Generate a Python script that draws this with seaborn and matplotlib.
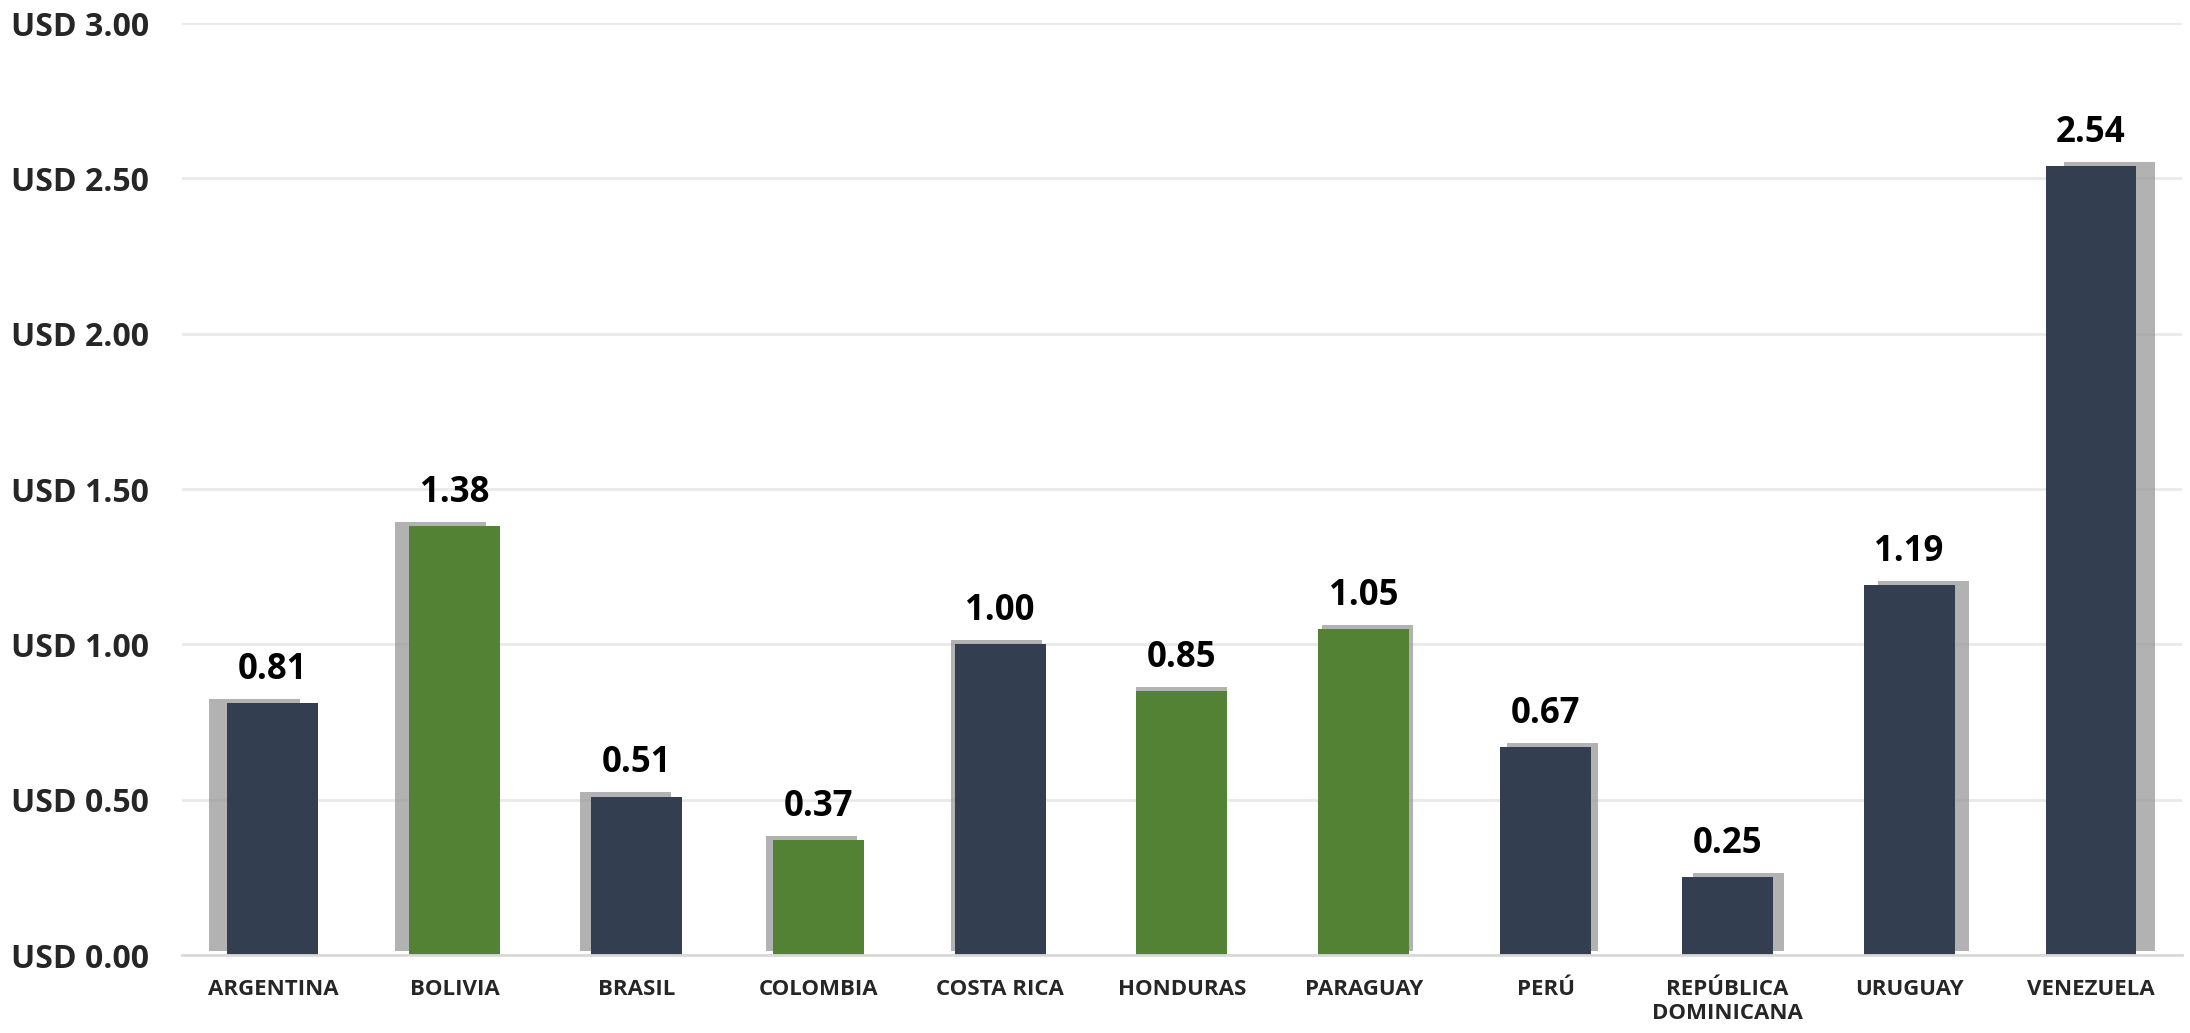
import seaborn as sns
import pandas as pd
import matplotlib.pyplot as plt
import matplotlib.patheffects as pe

# data
countries = ["ARGENTINA", "BOLIVIA", "BRASIL", "COLOMBIA", "COSTA RICA", "HONDURAS",
             "PARAGUAY", "PERÚ", "REPÚBLICA\nDOMINICANA", "URUGUAY", "VENEZUELA"]
values = [0.81, 1.38, 0.51, 0.37, 1.00, 0.85, 1.05, 0.67, 0.25, 1.19, 2.54]
groups = ["navy", "green", "navy", "green", "navy", "green",
          "green", "navy", "navy", "navy", "navy"]
y_ticks = [0.0, 0.5, 1.0, 1.5, 2.0, 2.5, 3.0]

df = pd.DataFrame({"country": countries, "value": values, "group": groups})

sns.set_style("white")
plt.rcParams["font.family"] = ["Open Sans", "DejaVu Sans"]

fig = plt.figure(figsize=(21.9, 10.33), dpi=100)
ax = fig.add_axes([0.0831, 0.0755, 0.9132, 0.9022])

sns.barplot(
    data=df,
    x="country",
    y="value",
    hue="group",
    palette={"navy": "#333F50", "green": "#548235"},
    saturation=1,
    dodge=False,
    width=0.5,
    legend=False,
    linewidth=0,
    ax=ax,
)

# perspective-like shadow, pointing away from the middle
n = len(countries)
for p in ax.patches:
    cx = p.get_x() + p.get_width() / 2
    dx = (cx - (n - 1) / 2) * 2.6
    p.set_path_effects([
        pe.SimplePatchShadow(offset=(dx, 3), shadow_rgbFace="0.6", alpha=0.75),
        pe.Normal(),
    ])

for c in ax.containers:
    ax.bar_label(c, fmt="%.2f", padding=11, fontsize=25, fontweight="bold", color="black")

ax.set_ylim(0, 3.0)
ax.set_xlim(-0.5, n - 0.5)
ax.set_yticks(y_ticks)
ax.set_yticklabels([f"USD {v:.2f}" for v in y_ticks], fontsize=23, fontweight="bold")
ax.tick_params(axis="y", length=0, pad=24)
ax.tick_params(axis="x", length=0, pad=17, labelsize=16)
for lbl in ax.get_xticklabels():
    lbl.set_fontweight("bold")
    lbl.set_verticalalignment("top")

ax.yaxis.grid(True, color="#E9E9E9", linewidth=2)
ax.set_axisbelow(True)
ax.set_xlabel("")
ax.set_ylabel("")
for s in ["top", "right", "left"]:
    ax.spines[s].set_visible(False)
ax.spines["bottom"].set_color("#D9D9D9")
ax.spines["bottom"].set_linewidth(2)

plt.savefig("out.png", dpi=100)
